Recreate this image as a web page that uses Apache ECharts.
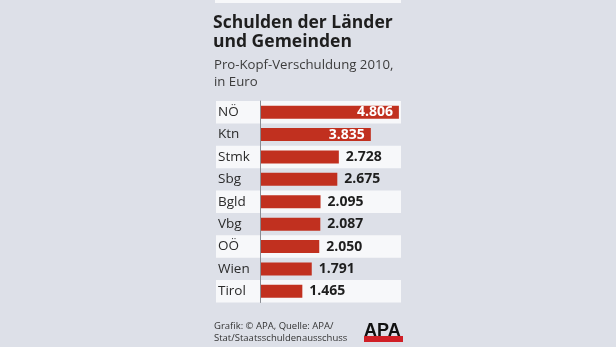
<!DOCTYPE html>
<html>
<head>
<meta charset="utf-8">
<script src="https://cdn.jsdelivr.net/npm/echarts@6/dist/echarts.min.js"></script>
<style>
  html, body { margin: 0; padding: 0; background: #dde0e8; }
  #chart { width: 616px; height: 347px; }
</style>
</head>
<body>
<div id="chart"></div>
<script>
// Pro-Kopf-Verschuldung der Länder und Gemeinden 2010 (Euro)
const laender = ['NÖ', 'Ktn', 'Stmk', 'Sbg', 'Bgld', 'Vbg', 'OÖ', 'Wien', 'Tirol'];
const schulden = [4806, 3835, 2728, 2675, 2095, 2087, 2050, 1791, 1465];

const titel = 'Schulden der Länder\nund Gemeinden';
const untertitel = 'Pro-Kopf-Verschuldung 2010,\nin Euro';
const quelle = 'Grafik: © APA, Quelle: APA/\nStat/Staatsschuldenausschuss';

const FONT = '"Open Sans", "Noto Sans", sans-serif';

function fmt(v) {
  return String(v).replace(/\B(?=(\d{3})+(?!\d))/g, '.');
}

const chart = echarts.init(document.getElementById('chart'), null, { renderer: 'canvas' });

const rowTop = 101, rowBottom = 44.5;

chart.setOption({
  backgroundColor: '#dde0e8',
  animation: false,
  grid: [
    { left: 260, right: 211.5, top: rowTop, bottom: rowBottom },
    { left: 216, right: 215, top: rowTop, bottom: rowBottom }
  ],
  xAxis: [
    { gridIndex: 0, type: 'value', min: 0, max: 5000, show: false },
    { gridIndex: 1, type: 'value', min: 0, max: 1, show: false }
  ],
  yAxis: [
    {
      gridIndex: 0, type: 'category', data: laender, inverse: true,
      axisLine: { show: true, lineStyle: { color: '#8a8d94', width: 1 } },
      axisTick: { show: false },
      axisLabel: {
        align: 'left', margin: 42, color: '#2a2a2a',
        fontFamily: FONT, fontSize: 13.5
      },
      z: 5
    },
    {
      gridIndex: 1, type: 'category', data: laender, inverse: true,
      axisLine: { show: false }, axisTick: { show: false }, axisLabel: { show: false },
      splitLine: { show: false },
      splitArea: { show: true, areaStyle: { color: ['#f7f8fa', 'rgba(0,0,0,0)'] } }
    }
  ],
  series: [
    {
      type: 'bar', xAxisIndex: 0, yAxisIndex: 0,
      data: schulden.map(v => ({
        value: v,
        label: v > 3000
          ? { position: 'insideRight', color: '#ffffff', distance: 6 }
          : { position: 'right', color: '#1e1e1e', distance: 7 }
      })),
      barWidth: 13,
      itemStyle: { color: '#c1301f' },
      label: {
        show: true, fontFamily: FONT, fontSize: 14, fontWeight: 'bold',
        formatter: p => fmt(p.value)
      },
      z: 3
    }
  ],
  graphic: [
    { type: 'rect', shape: { x: 215, y: 0, width: 186, height: 3 }, style: { fill: '#f7f8fa' } },
    {
      type: 'text', left: 213, top: 14,
      style: { text: titel, fontFamily: FONT, fontSize: 17.5, fontWeight: 'bold', fill: '#1e1e1e', lineHeight: 19 }
    },
    {
      type: 'text', left: 214, top: 57,
      style: { text: untertitel, fontFamily: FONT, fontSize: 13.2, fill: '#3c3c3c', lineHeight: 17 }
    },
    {
      type: 'text', left: 214, top: 320,
      style: { text: quelle, fontFamily: FONT, fontSize: 9.5, fill: '#333333', lineHeight: 12 }
    },
    { type: 'rect', shape: { x: 364, y: 336, width: 39, height: 6 }, style: { fill: '#d01f26' } },
    {
      type: 'text', left: 364, top: 322,
      style: { text: 'APA', fontFamily: '"Liberation Sans", Arial, sans-serif', fontSize: 18, fontWeight: 'bold', fill: '#111111' }
    }
  ]
});
</script>
</body>
</html>
